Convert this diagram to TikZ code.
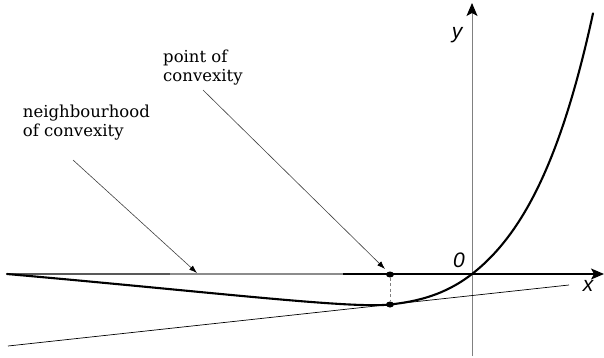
\documentclass[tikz,border=0pt]{standalone}
\usepackage{fontspec}
\setmainfont{DejaVu Serif}
\newfontfamily\axfont{Liberation Sans}
\usetikzlibrary{arrows.meta,shapes.geometric}
\begin{document}
\begin{tikzpicture}[x=1pt,y=-1pt,
  lbl/.style={font=\fontsize{16.5}{19}\selectfont, align=left, inner sep=0pt, anchor=north west},
  axlbl/.style={font=\axfont\itshape\fontsize{21}{21}\selectfont, inner sep=0pt},
  leader/.style={draw=black!75, line width=0.6pt, -{Latex[length=8pt,width=5.5pt,color=black]}},
  axisarrow/.style={-{Stealth[length=13pt,width=11pt,inset=3pt,color=black]}},
  dotmark/.style={ellipse, fill=black, inner sep=0pt, minimum width=8pt, minimum height=6pt},
  curve/.style={line width=2.1pt, line join=round, line cap=round},
  tangent/.style={line width=0.7pt}
]
\useasboundingbox (0,0) rectangle (604,358);

% axes
\coordinate (xs) at (7,274);
\coordinate (xn) at (170,274);
\coordinate (xm) at (343,274);
\coordinate (xe) at (604,274);
\coordinate (ys) at (472,356);
\coordinate (ye) at (472,3);
\coordinate (O) at (472,274);
\draw[black!45, line width=1.1pt] (xs) -- (xm);
\draw[black!65, line width=1.4pt] (xs) -- (xn);
\draw[black, line width=1.1pt, axisarrow] (xm) -- (xe);
\draw[black!50, line width=1pt, axisarrow] (ys) -- (ye);

\node[axlbl] (ylab) at (457,35) {y};
\node[axlbl] (xlab) at (588,286) {x};
\node[axlbl] (olab) at (459,260) {0};

% tangent
\coordinate (ts) at (8,346);
\coordinate (te) at (569,285);
\draw[tangent] (ts) -- (te);

% point of convexity
\node[dotmark] (pa) at (390,274.5) {};
\node[dotmark] (pc) at (390,304.5) {};
\draw[gray, line width=0.8pt, dash pattern=on 3pt off 2.5pt] (pa) -- (pc);

% curve
\draw[curve] (xs) .. controls (207,291.6) and (350,308.9) .. (pc.center)
  .. controls (417,301.55) and (445,295) .. (O)
  -- plot[domain=0:121, samples=80] ({472+\x},{274-53*(exp(0.0147*\x)-1)});

% labels
\node[lbl] (lpoint) at (163,49.5) {point of\\convexity};
\node[lbl] (lneigh) at (22.7,104.5) {neighbourhood\\of convexity};

\coordinate (ps) at (203,90);
\coordinate (pt) at (385,269);
\coordinate (ns) at (73,160);
\coordinate (nt) at (197,273);
\draw[leader] (ps) -- (pt);
\draw[leader] (ns) -- (nt);
\end{tikzpicture}
\end{document}
